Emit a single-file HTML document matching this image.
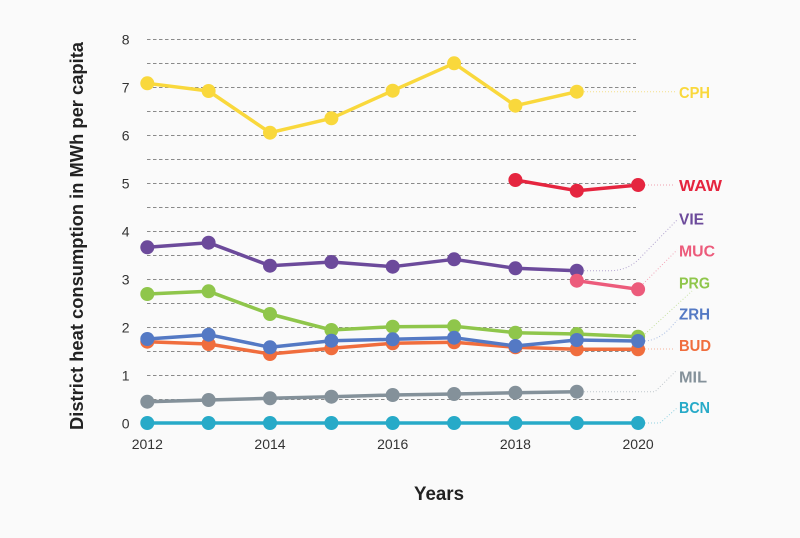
<!DOCTYPE html>
<html>
<head>
<meta charset="utf-8">
<style>
  html,body{margin:0;padding:0;background:#fafafa;}
  svg{display:block;}
  text{font-family:"Liberation Sans",sans-serif;}
</style>
</head>
<body>
<svg width="800" height="538" viewBox="0 0 800 538" xmlns="http://www.w3.org/2000/svg">
  <rect width="800" height="538" fill="#fafafa"/>
  <!-- grid -->
  <g stroke="#8a8a8a" stroke-width="1" stroke-dasharray="3.5,2.5" fill="none">
    <line x1="147" x2="636" y1="39.5" y2="39.5"/>
    <line x1="147" x2="636" y1="63.5" y2="63.5"/>
    <line x1="147" x2="636" y1="87.5" y2="87.5"/>
    <line x1="147" x2="636" y1="111.5" y2="111.5"/>
    <line x1="147" x2="636" y1="135.5" y2="135.5"/>
    <line x1="147" x2="636" y1="159.5" y2="159.5"/>
    <line x1="147" x2="636" y1="183.5" y2="183.5"/>
    <line x1="147" x2="636" y1="207.5" y2="207.5"/>
    <line x1="147" x2="636" y1="231.5" y2="231.5"/>
    <line x1="147" x2="636" y1="255.5" y2="255.5"/>
    <line x1="147" x2="636" y1="279.5" y2="279.5"/>
    <line x1="147" x2="636" y1="303.5" y2="303.5"/>
    <line x1="147" x2="636" y1="327.5" y2="327.5"/>
    <line x1="147" x2="636" y1="351.5" y2="351.5"/>
    <line x1="147" x2="636" y1="375.5" y2="375.5"/>
    <line x1="147" x2="636" y1="399.5" y2="399.5"/>
    <line x1="147" x2="636" y1="423.5" y2="423.5"/>
  </g>
  <!-- y tick labels -->
  <g font-size="14" fill="#333" text-anchor="end">
    <text x="129.5" y="44.5">8</text>
    <text x="129.5" y="92.5">7</text>
    <text x="129.5" y="140.5">6</text>
    <text x="129.5" y="188.5">5</text>
    <text x="129.5" y="236.5">4</text>
    <text x="129.5" y="284.5">3</text>
    <text x="129.5" y="332.5">2</text>
    <text x="129.5" y="380.5">1</text>
    <text x="129.5" y="428.5">0</text>
  </g>
  <!-- x tick labels -->
  <g font-size="14" fill="#333" text-anchor="middle">
    <text x="147.3" y="449">2012</text>
    <text x="270" y="449">2014</text>
    <text x="392.7" y="449">2016</text>
    <text x="515.4" y="449">2018</text>
    <text x="638.1" y="449">2020</text>
  </g>
  <!-- axis titles -->
  <text transform="translate(83,236) rotate(-90)" text-anchor="middle" font-size="18" font-weight="bold" fill="#222" textLength="388" lengthAdjust="spacingAndGlyphs">District heat consumption in MWh per capita</text>
  <text x="439" y="500" text-anchor="middle" font-size="19" font-weight="bold" fill="#222" textLength="50" lengthAdjust="spacingAndGlyphs">Years</text>

  <!-- leader lines -->
  <g fill="none" stroke-width="1" stroke-dasharray="1,2">
    <path d="M584,91.7 H675" stroke="#f5e08a"/>
    <path d="M645,185 H675" stroke="#f0a0ad"/>
    <path d="M584,270.7 H610 Q628,270.7 640,258 L677,220" stroke="#b4a6d0"/>
    <path d="M643,284 L677,250" stroke="#f3a4b6"/>
    <path d="M645,334 L692,291" stroke="#c8e2a4"/>
    <path d="M645,341 Q662,340 677,320" stroke="#a9bce3"/>
    <path d="M645,349 H675" stroke="#f6b39b"/>
    <path d="M584,391.7 H655 L677,370" stroke="#c0c7cc"/>
    <path d="M645,423 H660 L677,408" stroke="#93d3e2"/>
  </g>

  <!-- series -->
  <g fill="none" stroke-width="3.5" stroke-linejoin="round" stroke-linecap="round">
    <polyline stroke="#f9d83c" points="147.3,83.3 208.6,91 270,132.7 331.4,118.3 392.7,90.7 454.1,63.3 515.4,105.7 576.8,91.7"/>
    <polyline stroke="#e5253f" points="515.4,180 576.8,190.7 638.1,185"/>
    <polyline stroke="#6c4a9b" points="147.3,247.3 208.6,242.7 270,265.7 331.4,262 392.7,266.7 454.1,259.3 515.4,268.3 576.8,270.7"/>
    <polyline stroke="#ec5b7b" points="576.8,280.7 638.1,289.3"/>
    <polyline stroke="#8fc64b" points="147.3,294 208.6,291.3 270,314 331.4,330 392.7,326.7 454.1,326.3 515.4,332.7 576.8,334 638.1,336.7"/>
    <polyline stroke="#f06d3d" points="147.3,341.7 208.6,344 270,354 331.4,348.3 392.7,343.3 454.1,342.3 515.4,347.3 576.8,349.3 638.1,349.3"/>
    <polyline stroke="#5479c4" points="147.3,339 208.6,334.7 270,347.3 331.4,340.7 392.7,339.3 454.1,337.7 515.4,346 576.8,340 638.1,341"/>
    <polyline stroke="#84919a" points="147.3,401.7 208.6,400 270,398.3 331.4,396.7 392.7,395 454.1,394 515.4,392.7 576.8,391.7"/>
    <polyline stroke="#27aac8" points="147.3,423 208.6,423 270,423 331.4,423 392.7,423 454.1,423 515.4,423 576.8,423 638.1,423"/>
  </g>
  <!-- markers -->
  <g fill="#f9d83c">
    <circle cx="147.3" cy="83.3" r="7"/><circle cx="208.6" cy="91" r="7"/><circle cx="270" cy="132.7" r="7"/><circle cx="331.4" cy="118.3" r="7"/><circle cx="392.7" cy="90.7" r="7"/><circle cx="454.1" cy="63.3" r="7"/><circle cx="515.4" cy="105.7" r="7"/><circle cx="576.8" cy="91.7" r="7"/>
  </g>
  <g fill="#e5253f">
    <circle cx="515.4" cy="180" r="7"/><circle cx="576.8" cy="190.7" r="7"/><circle cx="638.1" cy="185" r="7"/>
  </g>
  <g fill="#6c4a9b">
    <circle cx="147.3" cy="247.3" r="7"/><circle cx="208.6" cy="242.7" r="7"/><circle cx="270" cy="265.7" r="7"/><circle cx="331.4" cy="262" r="7"/><circle cx="392.7" cy="266.7" r="7"/><circle cx="454.1" cy="259.3" r="7"/><circle cx="515.4" cy="268.3" r="7"/><circle cx="576.8" cy="270.7" r="7"/>
  </g>
  <g fill="#ec5b7b">
    <circle cx="576.8" cy="280.7" r="7"/><circle cx="638.1" cy="289.3" r="7"/>
  </g>
  <g fill="#8fc64b">
    <circle cx="147.3" cy="294" r="7"/><circle cx="208.6" cy="291.3" r="7"/><circle cx="270" cy="314" r="7"/><circle cx="331.4" cy="330" r="7"/><circle cx="392.7" cy="326.7" r="7"/><circle cx="454.1" cy="326.3" r="7"/><circle cx="515.4" cy="332.7" r="7"/><circle cx="576.8" cy="334" r="7"/><circle cx="638.1" cy="336.7" r="7"/>
  </g>
  <g fill="#f06d3d">
    <circle cx="147.3" cy="341.7" r="7"/><circle cx="208.6" cy="344" r="7"/><circle cx="270" cy="354" r="7"/><circle cx="331.4" cy="348.3" r="7"/><circle cx="392.7" cy="343.3" r="7"/><circle cx="454.1" cy="342.3" r="7"/><circle cx="515.4" cy="347.3" r="7"/><circle cx="576.8" cy="349.3" r="7"/><circle cx="638.1" cy="349.3" r="7"/>
  </g>
  <g fill="#5479c4">
    <circle cx="147.3" cy="339" r="7"/><circle cx="208.6" cy="334.7" r="7"/><circle cx="270" cy="347.3" r="7"/><circle cx="331.4" cy="340.7" r="7"/><circle cx="392.7" cy="339.3" r="7"/><circle cx="454.1" cy="337.7" r="7"/><circle cx="515.4" cy="346" r="7"/><circle cx="576.8" cy="340" r="7"/><circle cx="638.1" cy="341" r="7"/>
  </g>
  <g fill="#84919a">
    <circle cx="147.3" cy="401.7" r="7"/><circle cx="208.6" cy="400" r="7"/><circle cx="270" cy="398.3" r="7"/><circle cx="331.4" cy="396.7" r="7"/><circle cx="392.7" cy="395" r="7"/><circle cx="454.1" cy="394" r="7"/><circle cx="515.4" cy="392.7" r="7"/><circle cx="576.8" cy="391.7" r="7"/>
  </g>
  <g fill="#27aac8">
    <circle cx="147.3" cy="423" r="7"/><circle cx="208.6" cy="423" r="7"/><circle cx="270" cy="423" r="7"/><circle cx="331.4" cy="423" r="7"/><circle cx="392.7" cy="423" r="7"/><circle cx="454.1" cy="423" r="7"/><circle cx="515.4" cy="423" r="7"/><circle cx="576.8" cy="423" r="7"/><circle cx="638.1" cy="423" r="7"/>
  </g>

  <!-- labels -->
  <g font-size="16" font-weight="bold">
    <text x="679" y="98" fill="#f9d83c" textLength="31" lengthAdjust="spacingAndGlyphs">CPH</text>
    <text x="679" y="190.8" fill="#e5253f" textLength="43" lengthAdjust="spacingAndGlyphs">WAW</text>
    <text x="679" y="224.5" fill="#6c4a9b" textLength="25" lengthAdjust="spacingAndGlyphs">VIE</text>
    <text x="679" y="256.4" fill="#ec5b7b" textLength="36" lengthAdjust="spacingAndGlyphs">MUC</text>
    <text x="679" y="288.4" fill="#8fc64b" textLength="31" lengthAdjust="spacingAndGlyphs">PRG</text>
    <text x="679" y="319.4" fill="#5479c4" textLength="31" lengthAdjust="spacingAndGlyphs">ZRH</text>
    <text x="679" y="350.9" fill="#f06d3d" textLength="32" lengthAdjust="spacingAndGlyphs">BUD</text>
    <text x="679" y="382.4" fill="#84919a" textLength="28" lengthAdjust="spacingAndGlyphs">MIL</text>
    <text x="679" y="412.9" fill="#27aac8" textLength="31" lengthAdjust="spacingAndGlyphs">BCN</text>
  </g>
</svg>
</body>
</html>
